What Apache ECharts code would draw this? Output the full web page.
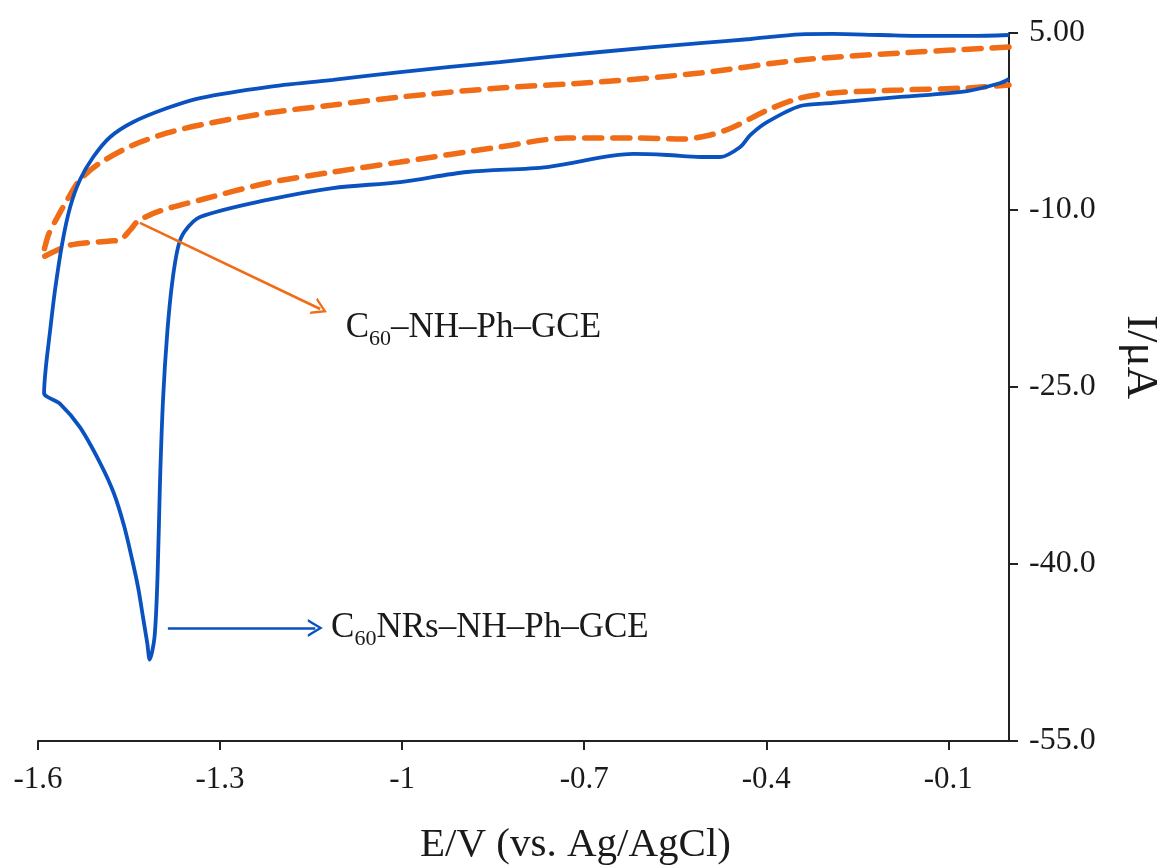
<!DOCTYPE html>
<html lang="en">
<head>
    <meta charset="UTF-8">
    <title>CV C60 electrodes</title>
    <script src="https://cdn.jsdelivr.net/npm/echarts@6/dist/echarts.min.js"></script>
    <style>
        body {
            margin: 0;
            padding: 0;
            background: #fff;
            overflow: hidden;
        }
        #chart {
            width: 1169px;
            height: 867px;
        }
    </style>
</head>
<body>
<div id="chart"></div>
<script>
    // [E (V), I (uA)]
    // C60NRs-NH-Ph-GCE, upper branch from 0 V back to the switching corner
    const nrsUpper = [
        [0, 4.83], [-0.064, 4.75], [-0.125, 4.75], [-0.212, 4.83], [-0.29, 4.92], [-0.344, 4.88],
        [-0.426, 4.49], [-0.509, 4.15], [-0.674, 3.39], [-0.839, 2.54], [-1.003, 1.69], [-1.114, 1.02],
        [-1.222, 0.42], [-1.333, -0.51], [-1.387, -1.36], [-1.443, -2.54], [-1.481, -3.81], [-1.509, -5.51],
        [-1.531, -7.46], [-1.547, -9.75], [-1.56, -12.8], [-1.572, -16.8], [-1.58, -20.2], [-1.587, -23.3],
        [-1.59, -25.5]
    ]
    // peak and lower branch back to 0 V
    const nrsLower = [
        [-1.564, -26.4], [-1.531, -28.4], [-1.498, -31.4], [-1.475, -34.0], [-1.458, -36.8], [-1.445, -39.6],
        [-1.435, -42.0], [-1.427, -44.5], [-1.42, -46.7], [-1.416, -48.1], [-1.408, -46.2], [-1.403, -41.0],
        [-1.399, -33.1], [-1.394, -26.1], [-1.387, -20.4], [-1.379, -16.2], [-1.369, -13.1], [-1.358, -11.8],
        [-1.333, -10.6], [-1.222, -9.15], [-1.114, -8.14], [-1.003, -7.63], [-0.893, -6.78], [-0.761, -6.36],
        [-0.619, -5.25], [-0.563, -5.34], [-0.509, -5.51], [-0.476, -5.51], [-0.443, -4.66], [-0.426, -3.64],
        [-0.398, -2.54], [-0.344, -1.19], [-0.29, -0.93], [-0.179, -0.42], [-0.069, 0.08], [-0.014, 0.76],
        [0, 1.10]
    ]
    // C60-NH-Ph-GCE
    const c60Upper = [
        [0, 3.81], [-0.179, 3.31], [-0.344, 2.71], [-0.509, 1.61], [-0.674, 0.85], [-0.839, 0.34],
        [-1.003, -0.42], [-1.114, -1.10], [-1.222, -1.78], [-1.333, -2.80], [-1.387, -3.47], [-1.443, -4.49],
        [-1.498, -6.02], [-1.531, -7.46], [-1.552, -9.15], [-1.57, -10.8], [-1.582, -12.0], [-1.589, -13.2],
        [-1.592, -14.0]
    ]
    const c60Lower = [
        [-1.547, -12.97], [-1.481, -12.63], [-1.465, -12.54], [-1.448, -11.69], [-1.435, -10.93], [-1.399, -10.08],
        [-1.333, -9.15], [-1.222, -7.71], [-1.114, -6.78], [-1.003, -5.93], [-0.839, -4.66], [-0.728, -3.90],
        [-0.619, -3.90], [-0.537, -3.98], [-0.492, -3.64], [-0.454, -2.97], [-0.398, -1.53], [-0.344, -0.51],
        [-0.29, -0.08], [-0.179, 0.17], [-0.069, 0.34], [0, 0.59]
    ]

    const xTickValues = [-1.6, -1.3, -1, -0.7, -0.4, -0.1]
    const xTickLabels = ['-1.6', '-1.3', '-1', '-0.7', '-0.4', '-0.1']
    const yTickValues = [-55, -40, -25, -10, 5]
    const yTickLabels = ['-55.0', '-40.0', '-25.0', '-10.0', '5.00']

    // label text (rich) and where the annotation arrows go, in data units
    const nrsLabel = '{n|C}{s|60}{n|NRs–NH–Ph–GCE}'
    const c60Label = '{n|C}{s|60}{n|–NH–Ph–GCE}'
    const nrsArrow = [[-1.386, -45.42], [-1.143, -45.42]]
    const c60Arrow = [[-1.432, -11.1], [-1.135, -18.39]]
    const nrsLabelAt = [-1.117, -45.42]
    const c60LabelAt = [-1.093, -20.0]

    const FONT = '"Liberation Serif", "Times New Roman", serif'
    const BLUE = '#0a52bf'
    const ORANGE = '#f06c16'
    const INK = '#1a1a1a'
    const chevron = 'path://M0,10 L6,0 L12,10 L10.2,10 L6,3 L1.8,10 Z'

    const richText = {
        n: { fontFamily: FONT, fontSize: 35, color: INK, lineHeight: 44, verticalAlign: 'middle' },
        s: { fontFamily: FONT, fontSize: 22, color: INK, lineHeight: 44, verticalAlign: 'bottom' }
    }

    function arrowLine(pts, color) {
        return {
            silent: true,
            symbol: ['none', chevron],
            symbolSize: [18, 15],
            label: { show: false },
            lineStyle: { color: color, width: 2.5, type: 'solid' },
            emphasis: { disabled: true },
            data: [[{ coord: pts[0] }, { coord: pts[1] }]]
        }
    }

    function textMark(at, text) {
        return {
            silent: true,
            symbolSize: 0,
            label: {
                show: true, position: 'right', distance: 0,
                formatter: text, rich: richText
            },
            data: [{ coord: at }]
        }
    }

    function buildChart() {
        const chart = echarts.init(document.getElementById('chart'), null, { renderer: 'canvas' })
        chart.setOption({
            animation: false,
            backgroundColor: '#fff',
            grid: { left: 38, right: 160, top: 33, bottom: 126, containLabel: false, outerBoundsMode: 'none' },
            xAxis: {
                type: 'value', min: -1.6, max: 0,
                axisLine: { onZero: false, lineStyle: { color: '#222', width: 2 } },
                axisTick: { show: true, length: 9, customValues: xTickValues, lineStyle: { color: '#222', width: 2 } },
                axisLabel: {
                    margin: 23, fontFamily: FONT, fontSize: 31, color: INK,
                    customValues: xTickValues,
                    formatter: v => {
                        const i = xTickValues.findIndex(t => Math.abs(t - v) < 1e-6)
                        return i < 0 ? '' : xTickLabels[i]
                    }
                },
                splitLine: { show: false },
                name: 'E/V (vs. Ag/AgCl)', nameLocation: 'middle', nameGap: 84,
                nameTextStyle: { fontFamily: FONT, fontSize: 41, color: INK, padding: [0, 0, 0, 104] }
            },
            yAxis: {
                type: 'value', position: 'right', min: -55, max: 5, interval: 15,
                axisLine: { show: true, onZero: false, lineStyle: { color: '#222', width: 2 } },
                axisTick: { show: true, length: 9, lineStyle: { color: '#222', width: 2 } },
                axisLabel: {
                    margin: 20, fontFamily: FONT, fontSize: 32, color: INK, align: 'left',
                    formatter: v => {
                        const i = yTickValues.findIndex(t => Math.abs(t - v) < 1e-6)
                        return i < 0 ? '' : yTickLabels[i]
                    }
                },
                splitLine: { show: false },
                name: 'I/μA', nameLocation: 'middle', nameRotate: -90, nameGap: 108,
                nameTextStyle: { fontFamily: FONT, fontSize: 45, color: INK, padding: [0, 60, 0, 0] }
            },
            series: [
                {
                    name: 'C60-NH-Ph-GCE', type: 'line',
                    data: c60Upper.concat(c60Lower),
                    showSymbol: false, smooth: 0.3, silent: true,
                    lineStyle: { color: ORANGE, width: 5.5, type: [17, 11], cap: 'round' },
                    markLine: arrowLine(c60Arrow, ORANGE),
                    markPoint: textMark(c60LabelAt, c60Label)
                },
                {
                    name: 'C60NRs-NH-Ph-GCE', type: 'line',
                    data: nrsUpper.concat(nrsLower),
                    showSymbol: false, smooth: 0.3, silent: true,
                    lineStyle: { color: BLUE, width: 3.8 },
                    markLine: arrowLine(nrsArrow, BLUE),
                    markPoint: textMark(nrsLabelAt, nrsLabel)
                }
            ]
        })
        return chart
    }

    window.onload = function () {
        window.chart = buildChart()
    }
</script>
</body>
</html>
